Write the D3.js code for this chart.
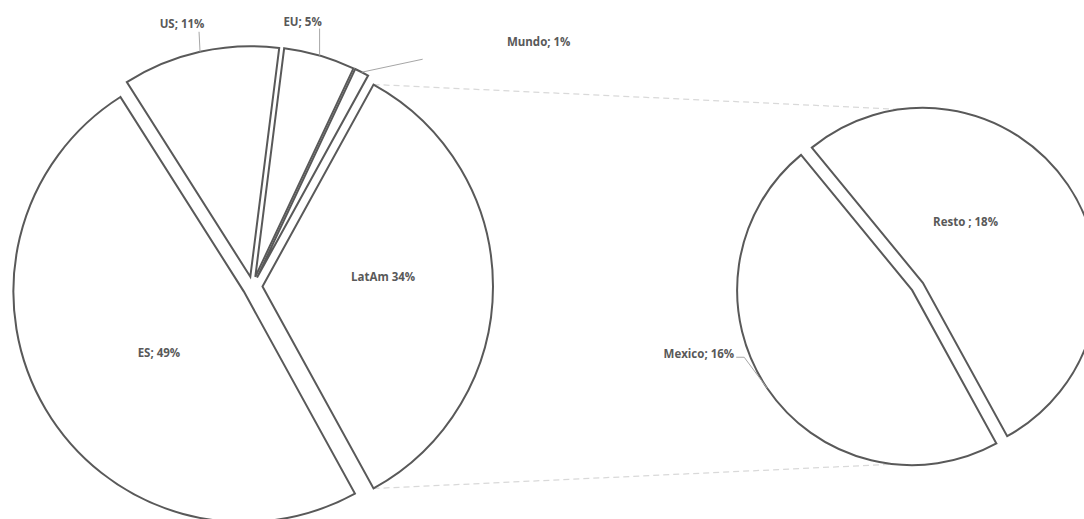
<!DOCTYPE html>
<html>
<head>
<meta charset="utf-8">
<script src="https://cdn.jsdelivr.net/npm/d3@7"></script>
<style>
  body { margin: 0; background: #fff; }
  text { font-family: "Open Sans", sans-serif; font-weight: bold; font-size: 11.5px; fill: #595959; }
</style>
</head>
<body>
<script>
// Main pie: LatAm is the aggregate that is split in the second pie
const leftNames = ["ES", "US", "EU", "Mundo", "LatAm"];
const leftValues = [49, 11, 5, 1, 34];
const leftLabels = ["ES; 49%", "US; 11%", "EU; 5%", "Mundo; 1%", "LatAm 34%"];

// Second pie (breakdown of LatAm)
const rightNames = ["Mexico", "Resto"];
const rightValues = [16, 18];
const rightLabels = ["Mexico; 16%", "Resto ; 18%"];

const width = 1084, height = 519;
const rad = d => d * Math.PI / 180;
const polar = (a, r) => [Math.sin(a) * r, -Math.cos(a) * r];

// geometry of both pies
const startAngle = rad(151.2);
const leftPie = { cx: 252.5, cy: 286.5, r: 230.5, explode: 10 };
const rightPie = { cx: 917.5, cy: 286.5, r: 175, explode: 6.5 };

// label placement: inside labels by angle shift + radius factor,
// outside labels by offsets from the slice's outer mid point
const labelPos = {
    ES: { inside: true, dAng: -5.3, k: 0.455 },
    LatAm: { inside: true, dAng: -4.5, k: 0.525 },
    Resto: { inside: true, dAng: -21, k: 0.426 },
    US: { leader: [[-1, -20]], text: [-18, -24], anchor: "middle" },
    EU: { leader: [[0, -27]], text: [-17, -30], anchor: "middle" },
    Mundo: { leader: [[61, -13]], text: [177, -26], anchor: "middle" },
    Mexico: { leader: [[-23, -31], [-31, -31]], text: [-33, -30], anchor: "end" }
};

const svg = d3.select("body").append("svg")
    .attr("width", width)
    .attr("height", height);

const pie = d3.pie()
    .sort(null)
    .value(d => d.value)
    .startAngle(startAngle)
    .endAngle(startAngle + 2 * Math.PI);

function drawPie(names, values, labels, geo) {
    const data = names.map((n, i) => ({ name: n, value: values[i], label: labels[i] }));
    const arcs = pie(data);
    const arc = d3.arc().innerRadius(0).outerRadius(geo.r);

    // apex of each exploded slice
    arcs.forEach(d => {
        d.mid = (d.startAngle + d.endAngle) / 2;
        const off = polar(d.mid, geo.explode);
        d.ox = geo.cx + off[0];
        d.oy = geo.cy + off[1];
    });

    svg.append("g").selectAll("path")
        .data(arcs)
        .enter()
        .append("path")
        .attr("transform", d => `translate(${d.ox},${d.oy})`)
        .attr("d", arc)
        .attr("fill", "#fff")
        .attr("stroke", "#595959")
        .attr("stroke-width", 2)
        .attr("stroke-linejoin", "miter");

    const lab = svg.append("g");
    arcs.forEach(d => {
        const p = labelPos[d.data.name];
        if (p.inside) {
            const c = polar(d.mid + rad(p.dAng), geo.r * p.k);
            lab.append("text")
                .attr("x", d.ox + c[0])
                .attr("y", d.oy + c[1])
                .attr("dy", "0.35em")
                .attr("text-anchor", "middle")
                .text(d.data.label);
        } else {
            const o = polar(d.mid, geo.r);
            const px = d.ox + o[0], py = d.oy + o[1];
            const pts = [[px, py]].concat(p.leader.map(l => [px + l[0], py + l[1]]));
            lab.append("path")
                .attr("d", d3.line()(pts))
                .attr("fill", "none")
                .attr("stroke", "#a6a6a6")
                .attr("stroke-width", 1);
            lab.append("text")
                .attr("x", px + p.text[0])
                .attr("y", py + p.text[1])
                .attr("text-anchor", p.anchor)
                .text(d.data.label);
        }
    });
    return arcs;
}

// connector lines from the LatAm slice to the second pie
const conn = svg.append("g");
const leftArcs = drawPie(leftNames, leftValues, leftLabels, leftPie);
const rightArcs = drawPie(rightNames, rightValues, rightLabels, rightPie);

const latam = leftArcs.find(d => d.data.name === "LatAm");
const resto = rightArcs.find(d => d.data.name === "Resto");
const mexico = rightArcs.find(d => d.data.name === "Mexico");

const a1 = polar(latam.startAngle, leftPie.r);
const a2 = polar(latam.endAngle, leftPie.r);
const b1 = polar(rad(-7.5), rightPie.r);
const b2 = polar(rad(186), rightPie.r);

const segs = [
    [[latam.ox + a1[0], latam.oy + a1[1]], [resto.ox + b1[0], resto.oy + b1[1]]],
    [[latam.ox + a2[0], latam.oy + a2[1]], [mexico.ox + b2[0], mexico.oy + b2[1]]]
];

conn.selectAll("line")
    .data(segs)
    .enter()
    .append("line")
    .attr("x1", d => d[0][0])
    .attr("y1", d => d[0][1])
    .attr("x2", d => d[1][0])
    .attr("y2", d => d[1][1])
    .attr("stroke", "#d9d9d9")
    .attr("stroke-width", 1.25)
    .attr("stroke-dasharray", "6,4");
</script>
</body>
</html>
